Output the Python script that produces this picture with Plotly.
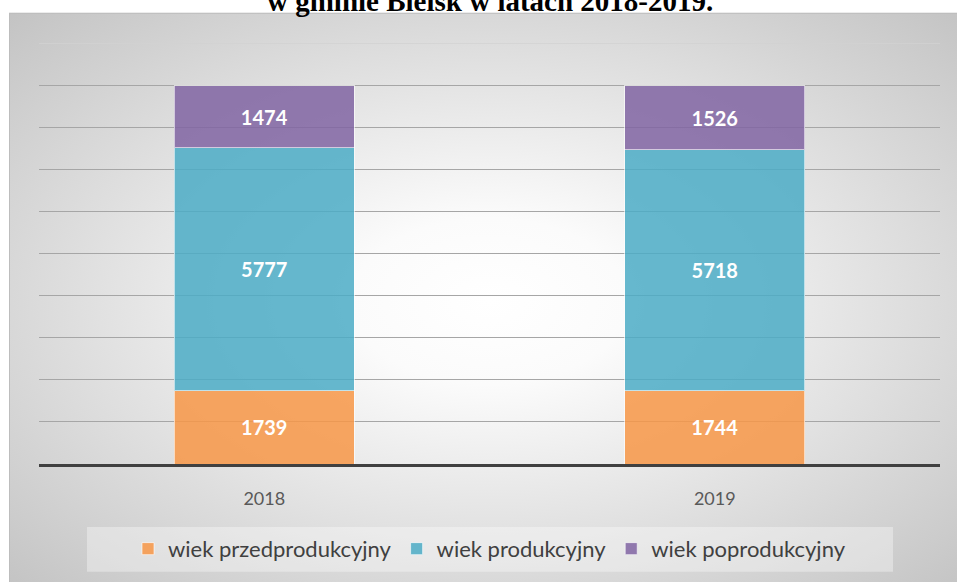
import base64
import plotly.graph_objects as go

years = ["2018", "2019"]
przed = [1739, 1744]
prod = [5777, 5718]
poprod = [1474, 1526]
series_names = ["wiek przedprodukcyjny", "wiek produkcyjny", "wiek poprodukcyjny"]
title_text = "w gminie Bielsk w latach 2018-2019."
grid_vals = [1000, 2000, 3000, 4000, 5000, 6000, 7000, 8000, 9000]

W, H = 957, 582
L, R, T, B = 39, 17, 43.4, 115.3
pw, ph = W - L - R, H - T - B

def px_x(p):
    return (p - L) / pw

def px_y(p):
    return (H - B - p) / ph

colors = ["rgba(247,150,70,0.85)", "rgba(75,172,198,0.85)", "rgba(128,100,162,0.85)"]

fig = go.Figure()
for name, vals, col in zip(series_names, [przed, prod, poprod], colors):
    fig.add_trace(go.Bar(
        x=years, y=vals, name=name,
        marker=dict(color=col, line=dict(color="rgba(255,255,255,0.6)", width=1)),
        text=[str(v) for v in vals], textposition="inside", insidetextanchor="middle",
        textfont=dict(color="white", size=20, family="Lato", weight="bold"),
        width=0.4,
    ))

svg = (
    '<svg xmlns="http://www.w3.org/2000/svg" width="960" height="580" viewBox="0 0 960 580">'
    '<defs><radialGradient id="g" cx="0.5" cy="0.5" r="0.72">'
    '<stop offset="0" stop-color="#ffffff"/><stop offset="0.2" stop-color="#fbfbfb"/>'
    '<stop offset="1" stop-color="#c2c2c2"/></radialGradient></defs>'
    '<rect x="0" y="0" width="960" height="580" fill="url(#g)" stroke="#bdbdbd" stroke-width="2"/></svg>'
)
src = "data:image/svg+xml;base64," + base64.b64encode(svg.encode()).decode()

fig.add_layout_image(dict(
    source=src, xref="paper", yref="paper",
    x=px_x(9), y=px_y(13), sizex=960 / pw, sizey=580 / ph,
    xanchor="left", yanchor="top", sizing="stretch", layer="below",
))

fig.add_shape(type="rect", xref="paper", yref="paper",
              x0=px_x(87), x1=px_x(893), y0=px_y(575), y1=px_y(530),
              fillcolor="rgba(255,255,255,0.35)", line=dict(width=0), layer="below")

# faint top gridline
fig.add_shape(type="line", xref="paper", yref="y", x0=0, x1=1, y0=10000, y1=10000,
              line=dict(color="#d2d2d2", width=1.3), layer="below")

fig.add_annotation(text="<b>" + title_text + "</b>", xref="paper", yref="paper",
                   x=px_x(490), y=px_y(1), xanchor="center", yanchor="middle",
                   showarrow=False, font=dict(family="Liberation Serif", size=29, color="#000000"))

fig.update_layout(
    barmode="stack",
    width=W, height=H,
    margin=dict(l=L, r=R, t=T, b=B, pad=0),
    paper_bgcolor="white",
    plot_bgcolor="rgba(0,0,0,0)",
    showlegend=True,
    legend=dict(orientation="h", x=0.5, xanchor="center", y=px_y(552), yanchor="middle",
                font=dict(family="Lato", size=22, color="#404040"),
                bgcolor="rgba(0,0,0,0)", itemclick=False, traceorder="normal"),
    xaxis=dict(showline=True, linecolor="#404040", linewidth=3, ticks="",
               tickfont=dict(family="Lato", size=18, color="#595959"),
               ticklabelstandoff=16, showgrid=False, fixedrange=True),
    yaxis=dict(range=[0, 10000], tickvals=grid_vals, showticklabels=False, showgrid=True,
               gridcolor="#a6a6a6", gridwidth=1.3, zeroline=False, ticks=""),
)

fig.write_html("out.html", config={"displayModeBar": False},
               post_script="document.body.style.margin='0';")
